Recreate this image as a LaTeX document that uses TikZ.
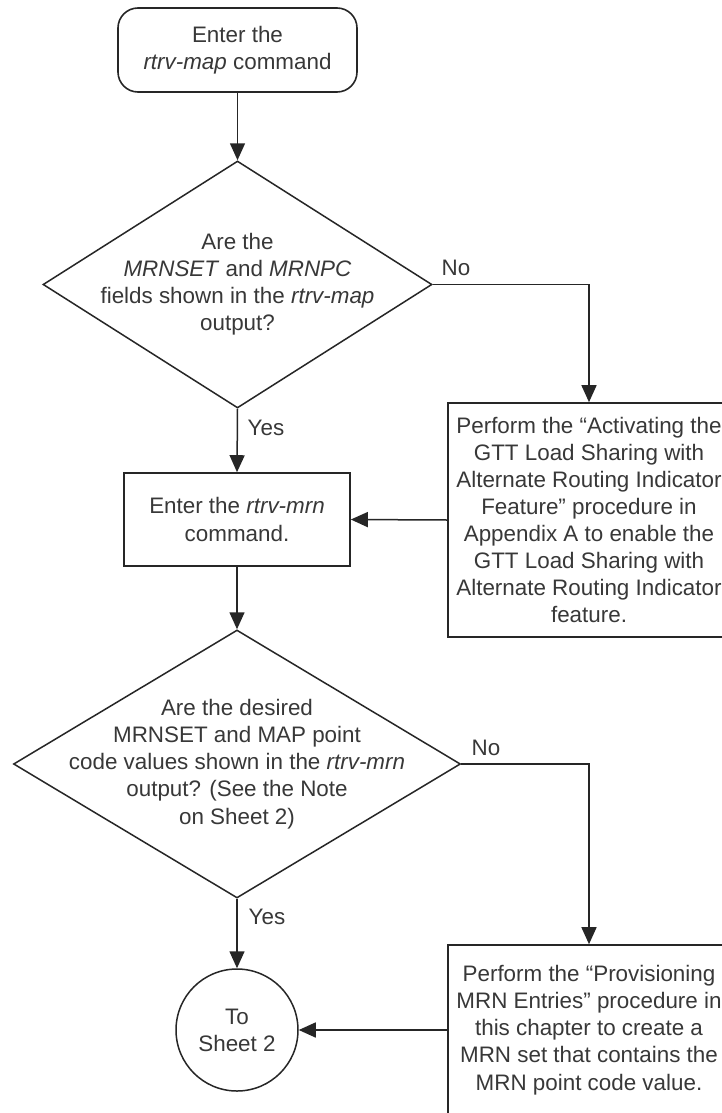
\documentclass[tikz,border=0pt]{standalone}
\usepackage{fontspec}
\setmainfont{Liberation Sans}
\usetikzlibrary{shapes.geometric,arrows.meta}
\definecolor{ln}{HTML}{262626}
\definecolor{tx}{HTML}{383838}
\begin{document}
\begin{tikzpicture}[x=1pt,y=-1pt,
  every node/.style={font=\fontsize{22.4}{27.1}\selectfont, text=tx},
  conn/.style={draw=ln, line width=1.5pt},
  arr/.style={conn, -{Triangle[length=17pt,width=15pt]}},
  procbox/.style={draw=ln, line width=1.6pt, rectangle, inner sep=0pt, align=center},
  termbox/.style={procbox, rounded corners=20pt},
  decis/.style={draw=ln, line width=1.5pt, diamond, inner sep=0pt},
  conncirc/.style={draw=ln, line width=1.5pt, circle, inner sep=0pt, align=center},
  lbl/.style={inner sep=0pt}]
\useasboundingbox (0,0) rectangle (722,1113);
\clip (0,0) rectangle (722,1113);
\fill[white] (0,0) rectangle (722,1113);

% nodes
\node[termbox, minimum width=239pt, minimum height=84pt] (start) at (237.5,50)
  {Enter the\\\textit{rtrv-map} command};

\node[decis, minimum width=389pt, minimum height=247pt] (d1) at (237.5,284.5) {};
\node[align=center, inner sep=0pt] (d1t) at (d1.center)
  {Are the\\\textit{MRNSET} and \textit{MRNPC}\\fields shown in the \textit{rtrv-map}\\output?};

\node[procbox, minimum width=282pt, minimum height=234pt] (b1) at (589,520)
  {Perform the “Activating the\\GTT Load Sharing with\\Alternate Routing Indicator\\Feature\symbol{"22} procedure in\\Appendix A to enable the\\GTT Load Sharing with\\Alternate Routing Indicator\\feature.};

\node[procbox, minimum width=226pt, minimum height=93pt] (b2) at (237,519.5)
  {Enter the \textit{rtrv-mrn}\\command.};

\node[decis, minimum width=447pt, minimum height=268pt] (d2) at (237,764) {};
\node[align=center, inner sep=0pt] (d2t) at (d2.center)
  {Are the desired\\MRNSET and MAP point\\code values shown in the \textit{rtrv-mrn}\\output? (See the Note\\on Sheet 2)};

\node[procbox, minimum width=282pt, minimum height=170pt] (b3) at (589,1030)
  {Perform the “Provisioning\\MRN Entries\symbol{"22} procedure in\\this chapter to create a\\MRN set that contains the\\MRN point code value.};

\node[conncirc, minimum size=122pt] (c1) at (237,1030) {To\\Sheet 2};

% labels
\node[lbl] (yes1) at (266,428) {Yes};
\node[lbl] (no1) at (456,268) {No};
\node[lbl] (no2) at (486,748) {No};
\node[lbl] (yes2) at (267,917) {Yes};

% connectors
\draw[arr] (start.south) -- (d1.north);
\draw[arr] (d1.south) -- (b2.north);
\draw[arr] (d1.east) -| (b1.north);
\draw[arr] (b1.west) -- (b2.east);
\draw[arr] (b2.south) -- (d2.north);
\draw[arr] (d2.east) -| (b3.north);
\draw[arr] (d2.south) -- (c1.north);
\draw[arr] (b3.west) -- (c1.east);
\end{tikzpicture}
\end{document}
